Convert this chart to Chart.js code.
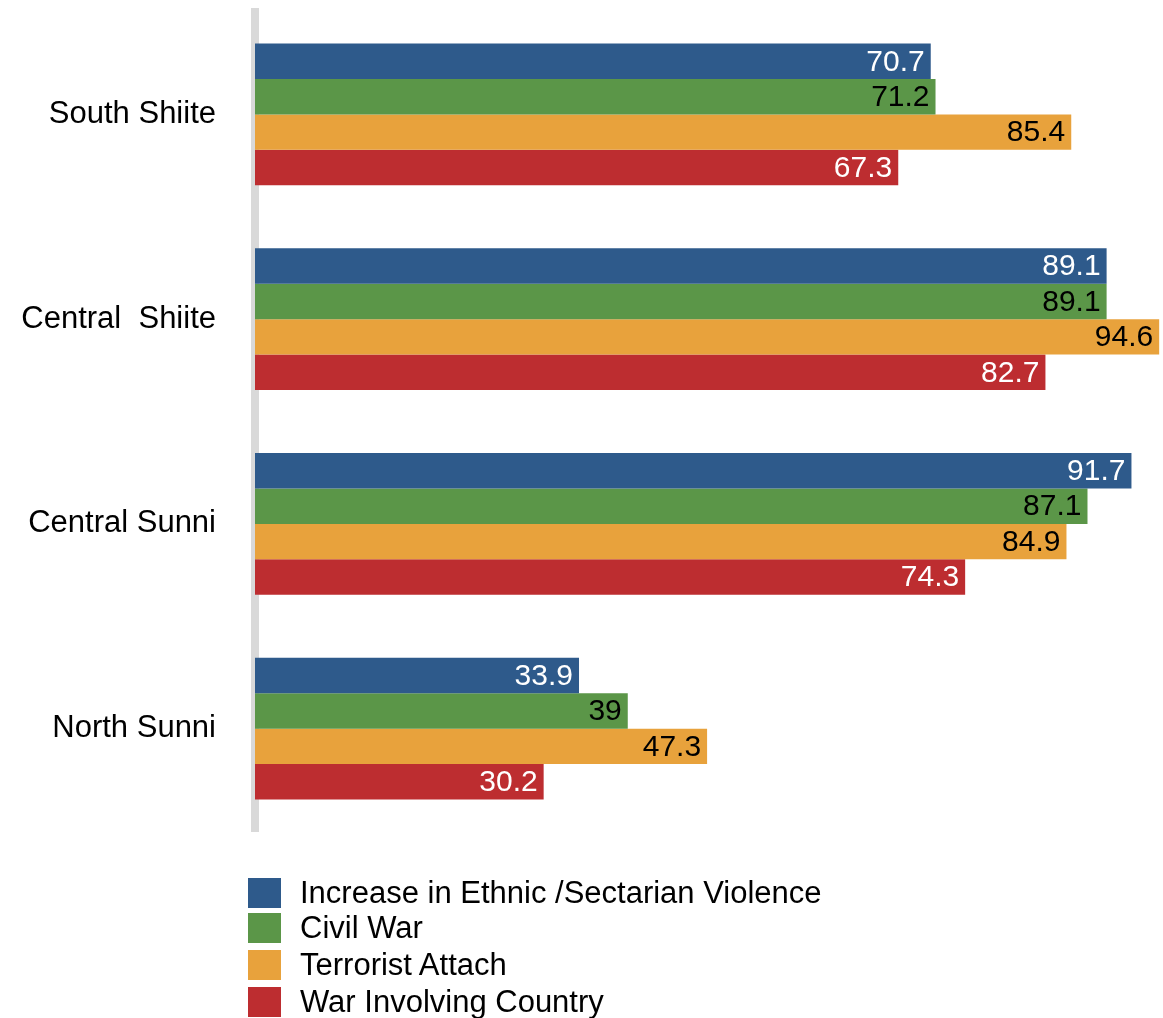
<!DOCTYPE html>
<html>
<head>
<meta charset="utf-8">
<script src="https://cdn.jsdelivr.net/npm/chart.js@4"></script>
<style>
  html, body { margin: 0; padding: 0; background: #ffffff; }
  #wrap { position: relative; width: 1163px; height: 1018px; overflow: hidden; }
  #wrap canvas { position: absolute; left: 0; top: 0; }
  .lg { position: absolute; left: 248px; height: 30px; font-family: "Liberation Sans", Arial, sans-serif; font-size: 31px; color: #000; white-space: nowrap; }
  .lg .box { position: absolute; left: 0; top: 0; width: 33px; height: 30px; }
  .lg .txt { position: absolute; left: 52px; top: -3px; line-height: 36px; }
</style>
</head>
<body>
<div id="wrap">
  <canvas id="c" width="1163" height="1018"></canvas>
  <div id="legend"></div>
</div>
<script>
const categories = ["South Shiite", "Central  Shiite", "Central Sunni", "North Sunni"];
const seriesNames = ["Increase in Ethnic /Sectarian Violence", "Civil War", "Terrorist Attach", "War Involving Country"];
const ethnicViolence = [70.7, 89.1, 91.7, 33.9];
const civilWar = [71.2, 89.1, 87.1, 39];
const terroristAttach = [85.4, 94.6, 84.9, 47.3];
const warInvolving = [67.3, 82.7, 74.3, 30.2];
const seriesColors = ["#2e5a8b", "#5b9648", "#e8a23c", "#bd2d30"];
const labelColors = ["#ffffff", "#000000", "#000000", "#ffffff"];
const seriesValues = [ethnicViolence, civilWar, terroristAttach, warInvolving];

const valueLabels = {
  id: 'valueLabels',
  afterDatasetsDraw(chart) {
    const ctx = chart.ctx;
    ctx.save();
    ctx.font = '30px "Liberation Sans", Arial, sans-serif';
    ctx.textAlign = 'right';
    ctx.textBaseline = 'middle';
    chart.data.datasets.forEach((ds, di) => {
      const meta = chart.getDatasetMeta(di);
      meta.data.forEach((bar, i) => {
        ctx.fillStyle = labelColors[di];
        ctx.fillText(String(ds.data[i]), bar.x - 6, bar.y + 1);
      });
    });
    ctx.restore();
  }
};

new Chart(document.getElementById('c'), {
  type: 'bar',
  data: {
    labels: categories,
    datasets: seriesNames.map((n, i) => ({
      label: n,
      data: seriesValues[i],
      backgroundColor: seriesColors[i],
      borderWidth: 0,
      categoryPercentage: 0.692,
      barPercentage: 1.0
    }))
  },
  options: {
    indexAxis: 'y',
    responsive: false,
    animation: false,
    layout: { padding: { top: 12, bottom: 187, left: 0, right: 0 } },
    plugins: { legend: { display: false }, tooltip: { enabled: false } },
    scales: {
      x: { display: false, min: 0, max: 95 },
      y: {
        afterFit(scale) { scale.width = 255; scale.paddingTop = 0; scale.paddingBottom = 0; },
        grid: { display: false, drawTicks: false },
        border: { display: true, color: '#d9d9d9', width: 8 },
        ticks: {
          color: '#000000',
          padding: 39,
          font: { family: '"Liberation Sans", Arial, sans-serif', size: 31 }
        }
      }
    }
  },
  plugins: [valueLabels]
});

const legendTops = [878, 913, 950, 987];
const legendEl = document.getElementById('legend');
seriesNames.forEach((n, i) => {
  const d = document.createElement('div');
  d.className = 'lg';
  d.style.top = legendTops[i] + 'px';
  const b = document.createElement('div');
  b.className = 'box';
  b.style.background = seriesColors[i];
  const t = document.createElement('div');
  t.className = 'txt';
  t.textContent = n;
  d.appendChild(b); d.appendChild(t);
  legendEl.appendChild(d);
});
</script>
</body>
</html>
